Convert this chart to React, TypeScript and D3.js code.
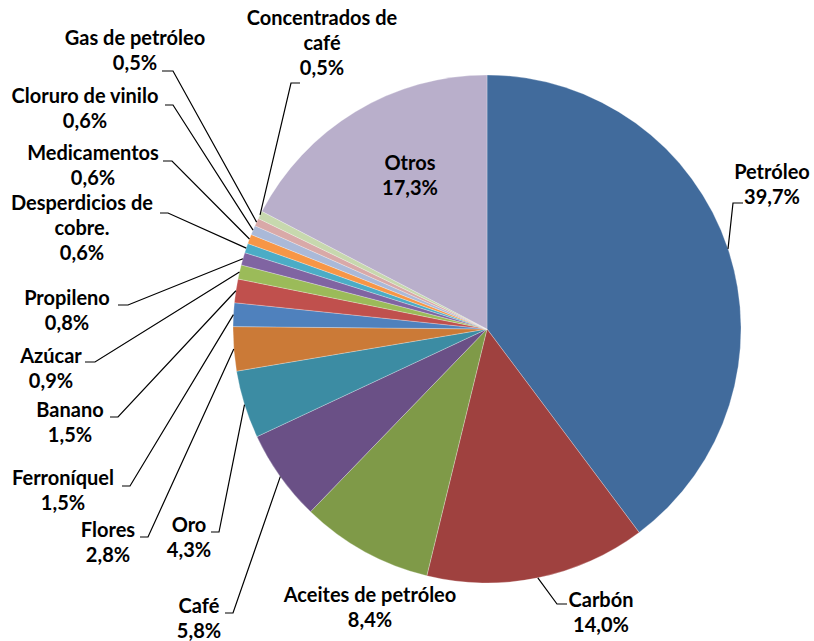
import React from "react";
import * as d3 from "d3";

// ---- data ----
const categories: string[] = [
  "Petróleo",
  "Carbón",
  "Aceites de petróleo",
  "Café",
  "Oro",
  "Flores",
  "Ferroníquel",
  "Banano",
  "Azúcar",
  "Propileno",
  "Desperdicios de\ncobre.",
  "Medicamentos",
  "Cloruro de vinilo",
  "Gas de petróleo",
  "Concentrados de\ncafé",
  "Otros",
];
const values: number[] = [39.7, 14.0, 8.4, 5.8, 4.3, 2.8, 1.5, 1.5, 0.9, 0.8, 0.6, 0.6, 0.6, 0.5, 0.5, 17.3];
const valueLabels: string[] = ["39,7%", "14,0%", "8,4%", "5,8%", "4,3%", "2,8%", "1,5%", "1,5%", "0,9%", "0,8%", "0,6%", "0,6%", "0,6%", "0,5%", "0,5%", "17,3%"];

// ---- styles ----
const colors: string[] = [
  "#416b9c", "#9f413f", "#7f9a48", "#6a5086", "#3c8ca3", "#cb7a37",
  "#4f81bd", "#c0504d", "#9bbb59", "#8064a2", "#4bacc6", "#f79646",
  "#aab9d8", "#d9a9a8", "#c7d8ae", "#b9afcb",
];

// label layout: text center x, first baseline y, leader segment (text side x, elbow x, y) or null
type LabelLayout = { x: number; y: number; seg: [number, number, number] | null };
const labelLayout: LabelLayout[] = [
  { x: 772, y: 179, seg: [743, 733, 203] },
  { x: 601, y: 607, seg: [567, 557, 604] },
  { x: 370, y: 602, seg: null },
  { x: 199, y: 613, seg: [225, 233, 613] },
  { x: 189, y: 532, seg: [211, 219, 532] },
  { x: 108, y: 537, seg: [140, 148, 537] },
  { x: 63, y: 485, seg: [122, 130, 486] },
  { x: 70, y: 417, seg: [110, 118, 417] },
  { x: 51, y: 363, seg: [85, 95, 362] },
  { x: 67, y: 305, seg: [118, 128, 305] },
  { x: 82, y: 210, seg: [160, 168, 213] },
  { x: 93, y: 160, seg: [163, 172, 161] },
  { x: 85, y: 103, seg: [165, 173, 105] },
  { x: 135, y: 45, seg: [162, 173, 71] },
  { x: 322, y: 25, seg: [300, 291, 83] },
  { x: 410, y: 170, seg: null },
];

const W = 814;
const H = 641;
const CX = 487;
const CY = 329;
const R = 254;
const LINE_H = 25;
const FONT = "Lato, 'Liberation Sans', sans-serif";

export default function App() {
  const pie = d3
    .pie<number>()
    .sort(null)
    .value((d) => d)
    .startAngle(0)
    .endAngle(2 * Math.PI);
  const arcs = pie(values);
  const arc = d3.arc<d3.PieArcDatum<number>>().innerRadius(0).outerRadius(R);
  const edge = d3.arc<d3.PieArcDatum<number>>().innerRadius(R).outerRadius(R);

  return (
    <svg
      width={W}
      height={H}
      style={{ position: "absolute", left: 0, top: 0, background: "#fff" }}
    >
      <g transform={`translate(${CX},${CY})`}>
        {arcs.map((a, i) => (
          <path
            key={i}
            d={arc(a) || ""}
            fill={colors[i]}
            stroke="#ffffff"
            strokeOpacity={0.45}
            strokeWidth={0.6}
          />
        ))}
      </g>
      {arcs.map((a, i) => {
        const L = labelLayout[i];
        if (!L.seg) return null;
        const [px, py] = edge.centroid(a);
        const [x0, x1, y] = L.seg;
        return (
          <polyline
            key={"l" + i}
            points={`${x0},${y} ${x1},${y} ${CX + px},${CY + py}`}
            fill="none"
            stroke="#000"
            strokeWidth={1.2}
          />
        );
      })}
      {categories.map((c, i) => {
        const L = labelLayout[i];
        const lines = [...c.split("\n"), valueLabels[i]];
        return (
          <text
            key={"t" + i}
            x={L.x}
            y={L.y}
            textAnchor="middle"
            fontFamily={FONT}
            fontWeight="bold"
            fontSize={20}
            fill="#000"
          >
            {lines.map((ln, j) => (
              <tspan key={j} x={L.x} dy={j === 0 ? 0 : LINE_H}>
                {ln}
              </tspan>
            ))}
          </text>
        );
      })}
    </svg>
  );
}
